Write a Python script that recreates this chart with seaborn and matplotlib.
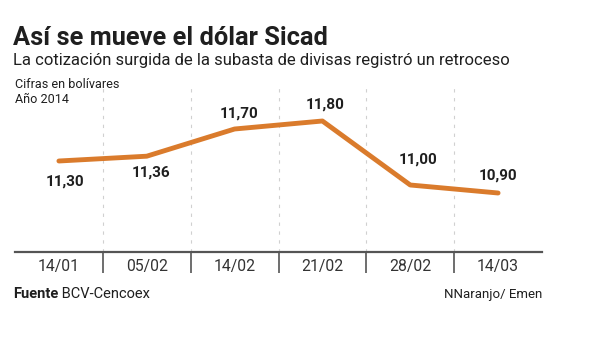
import matplotlib
matplotlib.use("Agg")
import matplotlib.pyplot as plt
import seaborn as sns
import pandas as pd

fechas = ["14/01", "05/02", "14/02", "21/02", "28/02", "14/03"]
valores = [11.30, 11.36, 11.70, 11.80, 11.00, 10.90]
titulo = "Así se mueve el dólar Sicad"
subtitulo = "La cotización surgida de la subasta de divisas registró un retroceso"
nota1 = "Cifras en bolívares"
nota2 = "Año 2014"
fuente_bold = "Fuente"
fuente_txt = " BCV-Cencoex"
autor = "NNaranjo/ Emen"

sns.set_theme(style="white")
plt.rcParams["font.family"] = ["Roboto", "DejaVu Sans"]

ORANGE = "#DA7B2C"
DARK = "#1f1f1f"

df = pd.DataFrame({"pos": range(len(fechas)), "valor": valores})

W, H = 600, 344
fig = plt.figure(figsize=(6, 3.44), dpi=100)
ax = fig.add_axes([15 / W, (H - 252) / H, (542 - 15) / W, (252 - 85) / H])

sns.lineplot(data=df, x="pos", y="valor", ax=ax, color=ORANGE, linewidth=3.5,
             solid_capstyle="round", solid_joinstyle="round")

ax.set_xlim(-0.5, len(fechas) - 0.5)
ax.set_ylim(10.1625, 12.25)
ax.set_xlabel("")
ax.set_ylabel("")
ax.set_yticks([])
for s in ["top", "left", "right"]:
    ax.spines[s].set_visible(False)
ax.spines["bottom"].set_color("#555555")
ax.spines["bottom"].set_linewidth(1.6)

ax.set_xticks(range(len(fechas)))
ax.set_xticklabels(fechas, fontsize=11.3, color="#333333")
ax.set_xticks([i + 0.5 for i in range(len(fechas) - 1)], minor=True)
ax.tick_params(axis="x", which="major", length=0, pad=5)
ax.tick_params(axis="x", which="minor", length=15, width=1.2, color="#555555",
               direction="out", bottom=True)
ax.xaxis.grid(True, which="minor", linestyle=(0, (3, 5)), color="#d0d0d0", linewidth=0.8)
ax.xaxis.grid(False, which="major")

offsets = [(4.3, -15.1), (2.9, -11.5), (2.9, 10.8), (2.2, 11.5), (5.8, 18.0), (0, 12.2)]
for i, (v, off) in enumerate(zip(valores, offsets)):
    ax.annotate(f"{v:.2f}".replace(".", ","), (i, v), xytext=off, textcoords="offset points",
                ha="center", va="center", fontsize=11, fontweight="bold", color=DARK)

fig.text(13 / W, 1 - 45 / H, titulo, fontsize=18.3, fontweight="bold", color=DARK, va="baseline")
fig.text(13 / W, 1 - 65 / H, subtitulo, fontsize=12, color=DARK, va="baseline")
fig.text(15 / W, 1 - 88 / H, nota1, fontsize=9.1, color=DARK, va="baseline")
fig.text(15 / W, 1 - 103 / H, nota2, fontsize=9.1, color=DARK, va="baseline")

t1 = fig.text(13 / W, 1 - 298 / H, fuente_bold, fontsize=10.5, fontweight="bold", color=DARK, va="baseline")
fig.canvas.draw()
bb = t1.get_window_extent()
fig.text(bb.x1 / W, 1 - 298 / H, fuente_txt, fontsize=10.5, color=DARK, va="baseline")
fig.text(542 / W, 1 - 298 / H, autor, fontsize=9.5, color=DARK, va="baseline", ha="right")

fig.savefig("out.png", dpi=100, facecolor="white")
